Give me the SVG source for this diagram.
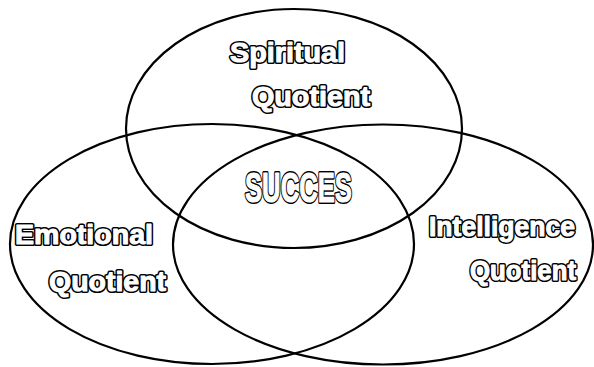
<svg xmlns="http://www.w3.org/2000/svg" width="594" height="367" viewBox="0 0 594 367">
<style>
.ring{fill:none;stroke:#000;stroke-width:2.2}
text{font-family:"Liberation Sans",Arial,sans-serif;font-weight:bold;font-size:27px;stroke-linejoin:round}
.o{fill:#000;stroke:#000;stroke-width:4}
.i{fill:#fff;stroke:#fff;stroke-width:1}
.big{font-size:42px}
</style>
<defs>
<text id="t1" x="230" y="62" textLength="115" lengthAdjust="spacingAndGlyphs">Spiritual</text>
<text id="t2" x="252" y="106" textLength="118" lengthAdjust="spacingAndGlyphs">Quotient</text>
<text id="t3" x="15" y="244" textLength="138" lengthAdjust="spacingAndGlyphs">Emotional</text>
<text id="t4" x="49" y="291" textLength="117" lengthAdjust="spacingAndGlyphs">Quotient</text>
<text id="t5" x="429" y="236" textLength="146" lengthAdjust="spacingAndGlyphs">Intelligence</text>
<text id="t6" x="470" y="280" textLength="106" lengthAdjust="spacingAndGlyphs">Quotient</text>
<text id="t7" class="big" x="245" y="202" textLength="107" lengthAdjust="spacingAndGlyphs">SUCCES</text>
</defs>
<rect width="594" height="367" fill="#fff"/>
<g id="spiritual">
<ellipse class="ring" cx="294" cy="128.5" rx="168" ry="119.5"/>
<use href="#t1" class="o"/><use href="#t1" class="i"/>
<use href="#t2" class="o"/><use href="#t2" class="i"/>
</g>
<g id="emotional">
<ellipse class="ring" cx="212" cy="244" rx="202" ry="120"/>
<use href="#t3" class="o"/><use href="#t3" class="i"/>
<use href="#t4" class="o"/><use href="#t4" class="i"/>
</g>
<g id="intelligence">
<ellipse class="ring" cx="383" cy="244.5" rx="210" ry="120"/>
<use href="#t5" class="o"/><use href="#t5" class="i"/>
<use href="#t6" class="o"/><use href="#t6" class="i"/>
</g>
<g id="succes">
<use href="#t7" class="o"/><use href="#t7" class="i"/>
</g>
<g id="connectors"></g>
</svg>
